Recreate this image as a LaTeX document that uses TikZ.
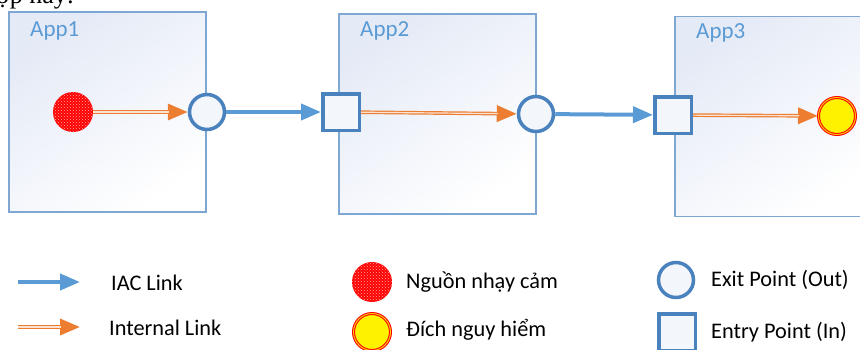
\documentclass[tikz,border=0pt]{standalone}
\usepackage{fontspec}
\setmainfont{Carlito}
\newfontfamily\bodyserif{Liberation Serif}
\usepackage{xcolor}
\usetikzlibrary{positioning,arrows.meta,patterns}

\definecolor{iacblue}{HTML}{5B9BD5}
\definecolor{ptblue}{HTML}{4A82BE}
\definecolor{boxblue}{HTML}{7FA7D4}
\definecolor{boxshade}{HTML}{E4EAF6}
\definecolor{ptfill}{HTML}{F3F6FB}
\definecolor{linkorange}{HTML}{ED7D31}
\definecolor{linklight}{HTML}{FBE3D3}

\begin{document}
\begin{tikzpicture}[x=1pt, y=-1pt,
  app/.style={draw=boxblue, line width=1.5pt, minimum width=197pt, minimum height=200pt,
              top color=boxshade, bottom color=white, shading angle=35},
  applabel/.style={text=iacblue, font=\fontsize{23}{26}\selectfont, anchor=north west, inner sep=0pt},
  exitpt/.style={circle, draw=ptblue, line width=3.5pt, minimum size=35pt, inner sep=0pt, fill=ptfill},
  entrypt/.style={rectangle, draw=ptblue, line width=3.5pt, minimum size=36.5pt, inner sep=0pt, fill=ptfill},
  srcpt/.style={circle, fill=red, minimum size=40pt, inner sep=0pt,
                postaction={pattern=crosshatch dots, pattern color=white!65!red}},
  sinkpt/.style={circle, fill=yellow, draw=red, line width=1pt, double=yellow!55!orange,
                 double distance=1pt, minimum size=37pt, inner sep=0pt},
  iac/.style={draw=iacblue, line width=4pt, -{Triangle[length=20pt, width=16pt]}},
  internal/.style={draw=linkorange, line width=3.6pt, -{Triangle[length=20pt, width=16pt]},
                   postaction={draw=linklight, line width=1.2pt, shorten >=19pt, arrows=-}},
  legend/.style={font=\fontsize{22.3}{25}\selectfont, anchor=west, inner sep=0pt}
]
  \useasboundingbox (0,0) rectangle (860,349);
  \clip (0,0) rectangle (860,349);

  % Text of the page above
  \node[font=\bodyserif\fontsize{26}{30}\selectfont, anchor=base west, inner sep=0pt]
    (pagetext) at (-4,3) {ợp này:};

  % App boxes
  \node[app] (app1) at (107.5,112) {};
  \node[app] (app2) at (437.5,114) {};
  \node[app] (app3) at (773.5,116.5) {};
  \node[applabel] (app1lbl) at (30,21) {App1};
  \node[applabel] (app2lbl) at (360,21) {App2};
  \node[applabel] (app3lbl) at (696,23) {App3};

  % Points
  \node[srcpt] (src) at (73,112) {};
  \node[exitpt] (exit1) at (207,112) {};
  \node[entrypt] (entry1) at (341,112) {};
  \node[exitpt] (exit2) at (536,114) {};
  \node[entrypt] (entry2) at (673,115) {};
  \node[sinkpt] (sink) at (837,116) {};

  % Links
  \draw[internal] (src) -- (exit1);
  \draw[iac] (exit1) -- (entry1);
  \draw[internal] (entry1) -- (exit2);
  \draw[iac] (exit2) -- (entry2);
  \draw[internal] (entry2) -- (sink);

  % Legend
  \coordinate (iacA) at (18,282);
  \coordinate (iacB) at (80,282);
  \coordinate (intA) at (18,327);
  \coordinate (intB) at (80,327);
  \draw[iac] (iacA) -- (iacB);
  \draw[internal] (intA) -- (intB);
  \node[legend] (iaclbl) at (111,283) {IAC Link};
  \node[legend] (intlbl) at (109,328) {Internal Link};

  \node[srcpt] (srckey) at (372,282) {};
  \node[sinkpt] (sinkkey) at (372,332) {};
  \node[legend] (srclbl) at (406,282) {Nguồn nhạy cảm};
  \node[legend] (sinklbl) at (406,330) {Đích nguy hiểm};

  \node[exitpt] (exitkey) at (676,280) {};
  \node[entrypt] (entrykey) at (677,332) {};
  \node[legend] (exitlbl) at (711,280) {Exit Point (Out)};
  \node[legend] (entrylbl) at (711,332) {Entry Point (In)};
\end{tikzpicture}
\end{document}
